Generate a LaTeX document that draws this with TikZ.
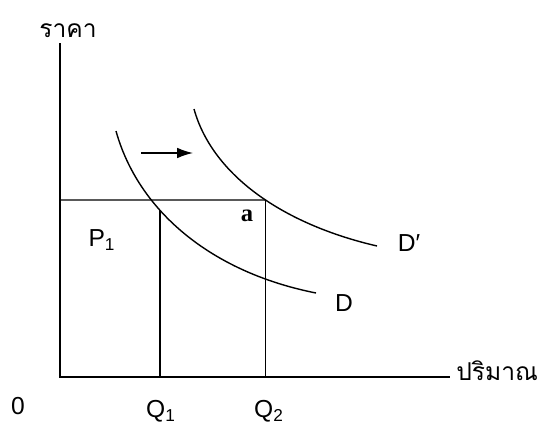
\documentclass[tikz,border=0pt]{standalone}
\usepackage{fontspec}
\setmainfont{Liberation Sans}
\newfontfamily\thaifont[Script=Thai]{Loma}
\newfontfamily\boldserif{Liberation Serif}
\usetikzlibrary{arrows.meta,intersections}

\begin{document}
\begin{tikzpicture}[x=0.02cm, y=-0.02cm,
  every node/.style={font=\fontsize{14}{16}\selectfont, inner sep=0pt},
  axisline/.style={line width=1.7pt},
  curveline/.style={line width=0.8pt},
  guideline/.style={line width=0.8pt},
  shiftarrow/.style={-{Latex[length=9pt,width=6pt]}, line width=0.8pt}]
  \useasboundingbox (0,0) rectangle (542,423);
  % axes
  \coordinate (O) at (60,377);
  \coordinate (ytop) at (60,43);
  \coordinate (xend) at (450,377);
  \draw[axisline] (ytop) -- (O) -- (xend);
  \node[anchor=south] (price) at (68,38) {\thaifont ราคา};
  \node[anchor=west] (qty) at (456,371) {\thaifont ปริมาณ};
  \node (zero) at (18,406) {0};
  % demand curves D and D'
  \draw[curveline, name path=D] (116,131) .. controls (138,210) and (210,272) .. (316,293);
  \draw[curveline, name path=Dp] (194,109) .. controls (213,177) and (286,225) .. (377,246);
  \node (Dlab) at (344,303) {D};
  \node (Dplab) at (409,243) {D′};
  % shift of demand
  \coordinate (arrstart) at (141,153);
  \coordinate (arrend) at (193,153);
  \draw[shiftarrow] (arrstart) -- (arrend);
  % price line and quantities
  \coordinate (P1left) at (60,200);
  \path[name path=pline] (P1left) -- (450,200);
  \path[name intersections={of=pline and Dp, by=Atop}];
  \path[name path=qoneline] (160,0) -- (160,377);
  \path[name intersections={of=qoneline and D, by=Qtop}];
  \draw[guideline] (P1left) -- (Atop);
  \draw[guideline] (Atop) -- (Atop |- O);
  \draw[guideline] (Qtop) -- (Qtop |- O);
  \node (P1) at (102,240) {P\textsubscript{1}};
  \node (alab) at (247,216) {\boldserif\bfseries a};
  \node[anchor=north] (Q1) at (161,400) {Q\textsubscript{1}};
  \node[anchor=north] (Q2) at (269,400) {Q\textsubscript{2}};
\end{tikzpicture}
\end{document}
